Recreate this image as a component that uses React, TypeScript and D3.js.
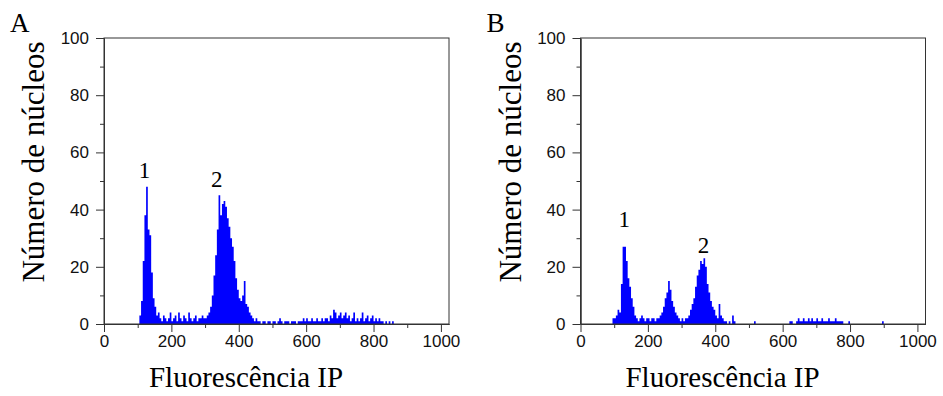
import * as d3 from "d3";
import { useEffect, useRef } from "react";

// histogram bins, 5 channels wide
const binWidth = 5;

// panel A: first bin at channel 100
const startA = 100;
const countsA = [
  0, 3, 8, 22, 38, 48, 33, 31, 18, 9,
  6, 3, 4, 2, 1, 3, 2, 1, 2, 4,
  1, 2, 3, 1, 4, 2, 1, 3, 2, 1,
  4, 2, 1, 2, 3, 1, 2, 2, 3, 2,
  2, 3, 4, 6, 10, 17, 24, 33, 45, 38,
  42, 43, 41, 37, 34, 30, 27, 22, 16, 12,
  9, 8, 10, 15, 7, 6, 4, 3, 2, 1,
  2, 1, 1, 0, 1, 1, 0, 1, 1, 0,
  1, 1, 0, 1, 2, 1, 0, 1, 1, 1,
  0, 1, 1, 1, 0, 1, 1, 1, 2, 1,
  2, 1, 1, 2, 1, 1, 2, 1, 1, 2,
  1, 2, 2, 1, 3, 2, 5, 4, 2, 3,
  4, 2, 3, 4, 2, 3, 1, 2, 4, 1,
  2, 1, 2, 4, 1, 2, 3, 1, 2, 3,
  1, 2, 1, 2, 1, 1, 0, 1, 0, 1,
  0, 1, 0,
];

// panel B: first bin at channel 95
const startB = 95;
const countsB = [
  2, 2, 3, 5, 4, 14, 27, 27, 22, 16,
  13, 9, 6, 3, 2, 1, 2, 3, 2, 1,
  2, 2, 1, 2, 2, 1, 2, 2, 3, 4,
  6, 9, 11, 15, 12, 8, 6, 4, 3, 2,
  1, 2, 1, 2, 2, 3, 5, 7, 9, 13,
  17, 19, 22, 21, 23, 20, 14, 11, 8, 6,
  5, 3, 2, 7, 3, 2, 1, 1, 0, 1,
  0, 3, 1, 0, 0, 0, 0, 0, 0, 0,
  0, 0, 0, 0, 1, 0, 0, 0, 0, 0,
  0, 0, 0, 0, 0, 0, 0, 0, 0, 0,
  0, 0, 0, 0, 0, 1, 1, 0, 0, 1,
  2, 1, 1, 2, 1, 1, 2, 1, 2, 1,
  1, 2, 1, 1, 2, 1, 1, 1, 2, 1,
  1, 1, 2, 1, 1, 1, 1, 0, 0, 0,
  1, 0, 0, 0, 0, 0, 0, 0, 0, 0,
  0, 0, 0, 0, 0, 0, 0, 0, 0, 0,
  1, 0,
];

const xTicks = [0, 200, 400, 600, 800, 1000];
const xMinor = [100, 300, 500, 700, 900];
const yTicks = [0, 20, 40, 60, 80, 100];
const yMinor = [10, 30, 50, 70, 90];

const yTitle = "Número de núcleos";
const xTitle = "Fluorescência IP";

interface Panel {
  letter: string;
  start: number;
  counts: number[];
  left: number;
  peaks: { label: string; ch: number; v: number }[];
}

const panels: Panel[] = [
  {
    letter: "A", start: startA, counts: countsA, left: 104,
    peaks: [{ label: "1", ch: 120, v: 51 }, { label: "2", ch: 335, v: 48 }],
  },
  {
    letter: "B", start: startB, counts: countsB, left: 580.5,
    peaks: [{ label: "1", ch: 130, v: 34 }, { label: "2", ch: 365, v: 25 }],
  },
];

const App = () => {
  const svgRef = useRef(null);

  useEffect(() => {
    const svg = d3.select(svgRef.current);
    svg.selectAll("*").remove();

    const top = 38;
    const bottom = 324;
    const y = d3.scaleLinear().domain([0, 100]).range([bottom, top]);

    panels.forEach((p) => {
      const x = d3.scaleLinear().domain([0, 1024]).range([p.left, p.left + 345]);
      const g = svg.append("g");

      // histogram as one stepped area so bins don't leave seams
      const bins = p.counts.map((v, i) => ({ ch: p.start + i * binWidth, v }));
      bins.push({ ch: p.start + p.counts.length * binWidth, v: 0 });
      const area = d3.area<{ ch: number; v: number }>()
        .x((d) => x(d.ch))
        .y0(y(0))
        .y1((d) => y(d.v))
        .curve(d3.curveStepAfter);
      g.append("path")
        .datum(bins)
        .attr("d", area)
        .attr("fill", "#0000ff");

      // frame
      g.append("rect")
        .attr("x", x(0))
        .attr("y", top)
        .attr("width", x(1024) - x(0))
        .attr("height", bottom - top)
        .attr("fill", "none")
        .attr("stroke", "#333");

      const yAxis = g.append("g")
        .attr("transform", `translate(${x(0)},0)`)
        .call(d3.axisLeft(y).tickValues(yTicks).tickSize(8).tickSizeOuter(0).tickPadding(7).tickFormat(d3.format("d")));
      g.append("g")
        .attr("transform", `translate(${x(0)},0)`)
        .call(d3.axisLeft(y).tickValues(yMinor).tickSize(4).tickSizeOuter(0).tickFormat(() => ""));

      const xAxis = g.append("g")
        .attr("transform", `translate(0,${bottom})`)
        .call(d3.axisBottom(x).tickValues(xTicks).tickSize(8).tickSizeOuter(0).tickPadding(3).tickFormat(d3.format("d")));
      g.append("g")
        .attr("transform", `translate(0,${bottom})`)
        .call(d3.axisBottom(x).tickValues(xMinor).tickSize(4).tickSizeOuter(0).tickFormat(() => ""));

      g.selectAll(".domain").attr("stroke", "#333");
      g.selectAll(".tick line").attr("stroke", "#333");
      [yAxis, xAxis].forEach((a) =>
        a.selectAll("text")
          .attr("font-family", "'Liberation Sans', Arial, sans-serif")
          .attr("font-size", 17)
          .attr("fill", "#111")
      );

      // peak labels
      g.selectAll(".peak")
        .data(p.peaks)
        .join("text")
        .attr("x", (d) => x(d.ch))
        .attr("y", (d) => y(d.v))
        .attr("text-anchor", "middle")
        .attr("font-family", "'Liberation Serif', 'Times New Roman', serif")
        .attr("font-size", 23)
        .text((d) => d.label);

      // titles
      g.append("text")
        .attr("transform", `translate(${p.left - 60},162) rotate(-90)`)
        .attr("text-anchor", "middle")
        .attr("font-family", "'Liberation Serif', 'Times New Roman', serif")
        .attr("font-size", 31)
        .text(yTitle);

      g.append("text")
        .attr("x", p.left + 142)
        .attr("y", 387)
        .attr("text-anchor", "middle")
        .attr("font-family", "'Liberation Serif', 'Times New Roman', serif")
        .attr("font-size", 29)
        .text(xTitle);

      g.append("text")
        .attr("x", p.left - 94)
        .attr("y", 32)
        .attr("font-family", "'Liberation Serif', 'Times New Roman', serif")
        .attr("font-size", 27)
        .text(p.letter);
    });
  }, []);

  return (
    <svg
      ref={svgRef}
      width={943}
      height={396}
      style={{ position: "absolute", left: 0, top: 0, background: "#fff" }}
    ></svg>
  );
};

export default App;
